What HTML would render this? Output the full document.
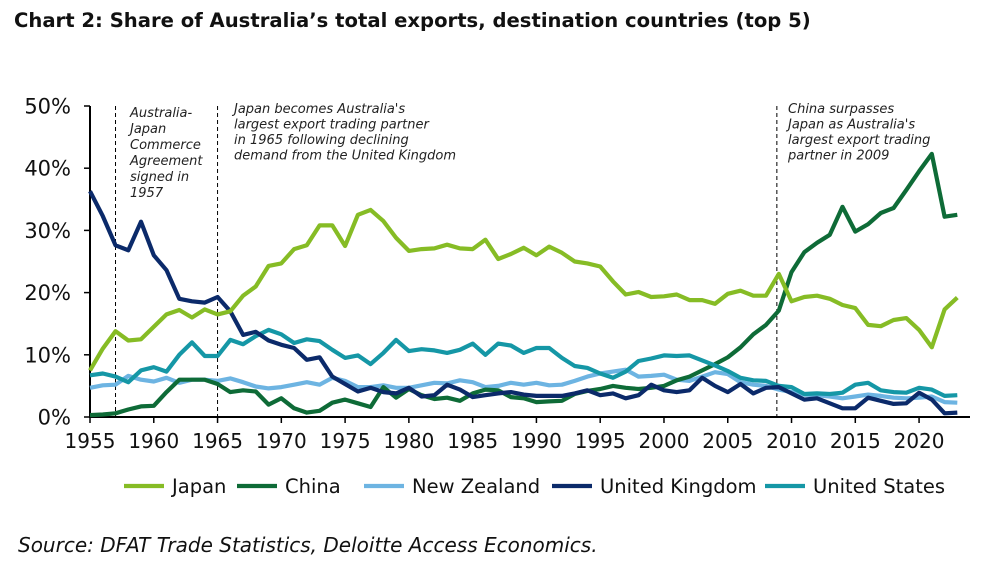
<!DOCTYPE html>
<html><head><meta charset="utf-8"><style>
body{margin:0;background:#fff;}
svg text{font-family:"DejaVu Sans","Liberation Sans",sans-serif;}
</style></head><body>
<svg id="c" width="997" height="562" viewBox="0 0 997 562" xmlns="http://www.w3.org/2000/svg">
<text x="14" y="27" font-size="19.6" font-weight="bold" fill="#111">Chart 2: Share of Australia’s total exports, destination countries (top 5)</text>
<g id="grid"></g>
<g id="lines"></g>
<g id="ann" font-style="italic" font-size="13" fill="#222">
<text x="130" y="117"><tspan x="130">Australia-</tspan><tspan x="130" dy="16">Japan</tspan><tspan x="130" dy="16">Commerce</tspan><tspan x="130" dy="16">Agreement</tspan><tspan x="130" dy="16">signed in</tspan><tspan x="130" dy="16">1957</tspan></text>
<text x="234" y="113"><tspan x="234">Japan becomes Australia's</tspan><tspan x="234" dy="15.5">largest export trading partner</tspan><tspan x="234" dy="15.5">in 1965 following declining</tspan><tspan x="234" dy="15.5">demand from the United Kingdom</tspan></text>
<text x="788" y="113"><tspan x="788">China surpasses</tspan><tspan x="788" dy="15.5">Japan as Australia's</tspan><tspan x="788" dy="15.5">largest export trading</tspan><tspan x="788" dy="15.5">partner in 2009</tspan></text>
</g>
<g id="legend"></g>
<text x="18" y="552" font-size="20" font-style="italic" fill="#111">Source: DFAT Trade Statistics, Deloitte Access Economics.</text>
</svg>
<script>
const years=[];for(let y=1955;y<=2023;y++)years.push(y);
const japan=[7.5,11,13.8,12.3,12.5,14.5,16.5,17.2,16,17.3,16.5,17,19.5,21,24.3,24.7,27,27.6,30.8,30.8,27.5,32.5,33.3,31.5,28.8,26.7,27,27.1,27.7,27.1,27,28.5,25.4,26.2,27.2,26,27.4,26.4,25,24.7,24.2,21.8,19.7,20.1,19.3,19.4,19.7,18.8,18.8,18.2,19.8,20.3,19.5,19.5,23,18.6,19.3,19.5,19,18,17.5,14.8,14.6,15.6,15.9,14,11.2,17.3,19.2];
const china=[0.3,0.4,0.6,1.2,1.7,1.8,4,6,6,6,5.3,4,4.3,4.1,2,3,1.4,0.7,1,2.3,2.8,2.2,1.6,4.8,3.1,4.5,3.5,2.9,3.1,2.6,3.8,4.4,4.3,3.2,3,2.4,2.5,2.6,3.7,4.2,4.5,5,4.7,4.5,4.7,5,5.9,6.5,7.5,8.5,9.6,11.2,13.3,14.8,17.1,23.3,26.5,28,29.3,33.8,29.8,31,32.8,33.6,36.5,39.5,42.3,32.2,32.5];
const nz=[4.7,5.1,5.2,6.6,6,5.7,6.3,5.5,6,6,5.8,6.2,5.6,4.9,4.6,4.8,5.2,5.6,5.2,6.3,5.8,4.8,4.8,5.1,4.7,4.7,5.1,5.5,5.4,5.9,5.6,4.8,5,5.5,5.2,5.5,5.1,5.2,5.8,6.5,7,7.3,7.6,6.5,6.6,6.8,6,5.8,6.5,7.2,6.9,5.6,5.2,5,4.4,4,3.6,3.5,3.3,3,3.3,3.6,3.4,3.1,3,3.1,3.3,2.4,2.3];
const uk=[36.3,32.3,27.6,26.8,31.4,26,23.6,19,18.6,18.4,19.3,17,13.2,13.7,12.3,11.6,11.1,9.2,9.6,6.5,5.3,4.1,4.7,4,3.8,4.7,3.3,3.5,5.2,4.4,3.2,3.5,3.8,4,3.6,3.4,3.4,3.4,3.8,4.3,3.5,3.8,3,3.5,5.2,4.3,4,4.3,6.3,5,4,5.3,3.8,4.7,4.8,3.8,2.8,3,2.2,1.4,1.4,3.1,2.6,2.1,2.2,3.9,2.8,0.6,0.7];
const us=[6.7,7,6.5,5.6,7.5,8,7.3,10,12,9.8,9.8,12.4,11.7,13,14,13.3,11.9,12.5,12.2,10.8,9.5,9.9,8.5,10.3,12.4,10.6,10.9,10.7,10.3,10.8,11.8,10,11.8,11.5,10.3,11.1,11.1,9.5,8.2,7.9,7,6.3,7.3,9,9.4,9.9,9.8,9.9,9.1,8.3,7.4,6.3,5.9,5.8,5,4.8,3.7,3.8,3.7,3.9,5.2,5.5,4.3,4,3.9,4.7,4.4,3.4,3.5];
const seriesNames=["Japan","China","New Zealand","United Kingdom","United States"];
const yTicks=[0,10,20,30,40,50];
const xTicks=[1955,1960,1965,1970,1975,1980,1985,1990,1995,2000,2005,2010,2015,2020];
const markers=[1957,1965,2008.85];
const NS="http://www.w3.org/2000/svg";
const X=y=>90+(y-1955)*12.755;
const Y=v=>417-v*6.22;
function mk(t,a,p){const e=document.createElementNS(NS,t);for(const k in a)e.setAttribute(k,a[k]);p.appendChild(e);return e;}
const g=document.getElementById('grid');
const ax=mk('path',{d:`M90,${Y(50)}V417H970`,stroke:'#000','stroke-width':2,fill:'none'},g);


yTicks.forEach(v=>{
 const tk=mk('line',{x1:84,x2:90,y1:Y(v),y2:Y(v),stroke:'#000','stroke-width':1.5},g);
 
 
 const t=mk('text',{x:71,y:Y(v)+7.5,'font-size':21,'text-anchor':'end',fill:'#111'},g);t.textContent=v+'%';
 
 
});
xTicks.forEach(v=>{
 const tk=mk('line',{x1:X(v),x2:X(v),y1:417,y2:423,stroke:'#000','stroke-width':1.5},g);
 
 
 const t=mk('text',{x:X(v),y:448,'font-size':20,'text-anchor':'middle',fill:'#111'},g);t.textContent=v;
 
 
});
markers.forEach(m=>{
 const l=mk('line',{x1:X(m),x2:X(m),y1:Y(50),y2:417,stroke:'#000','stroke-width':1,'stroke-dasharray':'4,3'},g);
 
 
});
const data=[japan,china,nz,uk,us];
const colors=['#86bc25','#0e6b37','#6db4e2','#0b2a6a','#1597a6'];
const order=[2,1,4,3,0];
const L=document.getElementById('lines');
order.forEach(i=>{
 const d=data[i].map((v,k)=>(k?'L':'M')+X(years[k]).toFixed(1)+','+Y(v).toFixed(1)).join('');
 const p=mk('path',{d,stroke:colors[i],'stroke-width':4.2,fill:'none','stroke-linejoin':'round'},L);
 
 
});
const lg=document.getElementById('legend');
const lx=[124,237,364,552,765];
seriesNames.forEach((n,i)=>{
 const e=mk('g',{},lg);
 
 
 mk('line',{x1:lx[i],x2:lx[i]+40,y1:486,y2:486,stroke:colors[i],'stroke-width':4.2},e);
 const t=mk('text',{x:lx[i]+48,y:493,'font-size':19.5,fill:'#111'},e);t.textContent=n;
});
</script>
</body></html>
